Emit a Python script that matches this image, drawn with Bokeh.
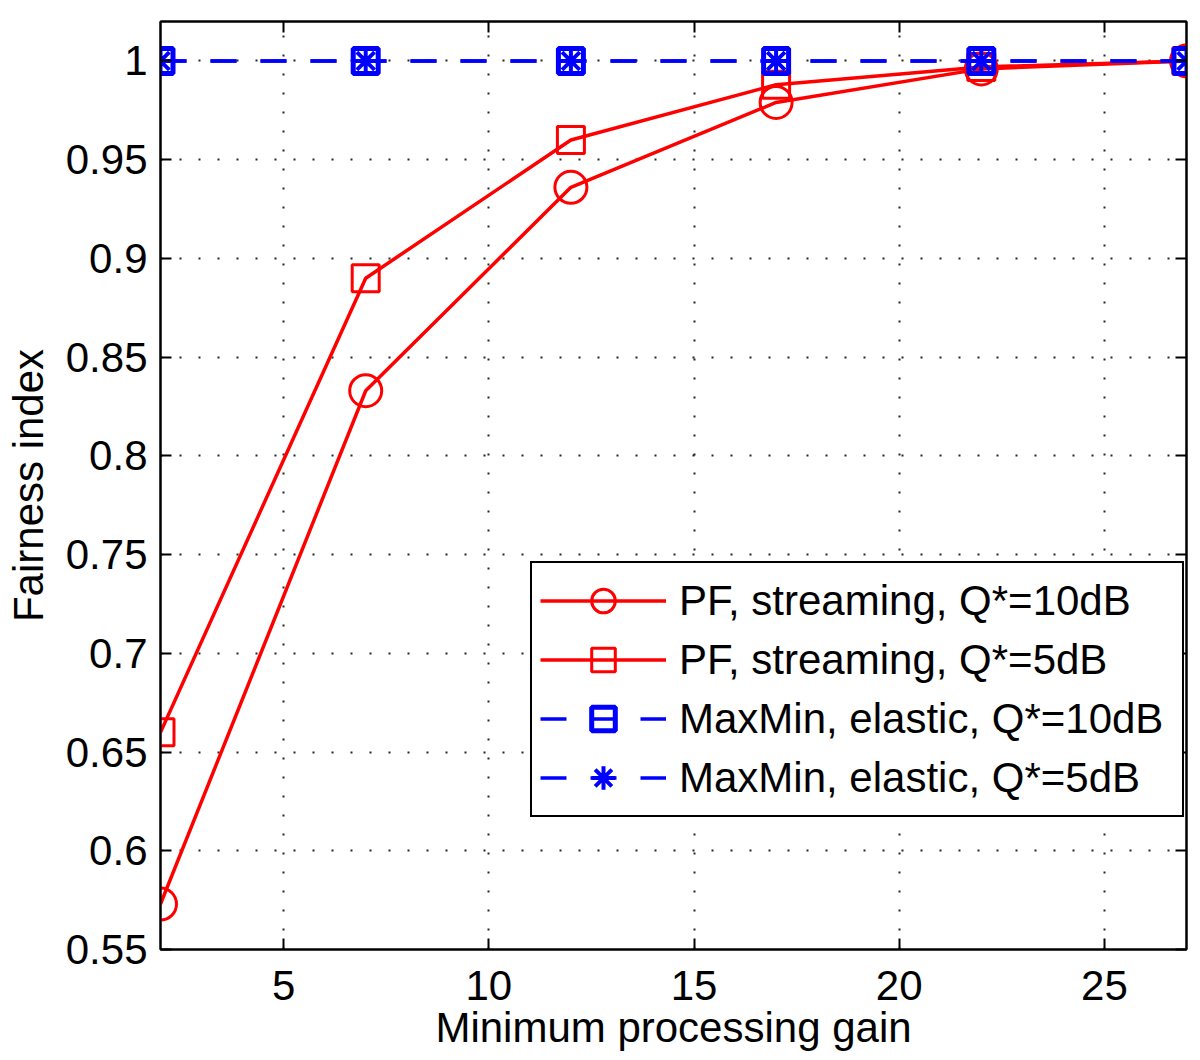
from bokeh.plotting import figure
from bokeh.models import FixedTicker, LinearAxis, Legend, LegendItem, Range1d
from bokeh.embed import file_html
from bokeh.resources import INLINE

# ---- data ----
x_gain = [2, 7, 12, 17, 22, 27]
pf_streaming_q10 = [0.573, 0.833, 0.936, 0.979, 0.996, 1.0]
pf_streaming_q5 = [0.660, 0.890, 0.960, 0.988, 0.997, 1.0]
maxmin_elastic_q10 = [1.0, 1.0, 1.0, 1.0, 1.0, 1.0]
maxmin_elastic_q5 = [1.0, 1.0, 1.0, 1.0, 1.0, 1.0]

series_labels = [
    "PF, streaming, Q*=10dB",
    "PF, streaming, Q*=5dB",
    "MaxMin, elastic, Q*=10dB",
    "MaxMin, elastic, Q*=5dB",
]

x_ticks = [5, 10, 15, 20, 25]
y_ticks = [0.55, 0.6, 0.65, 0.7, 0.75, 0.8, 0.85, 0.9, 0.95, 1.0]
y_tick_labels = ["0.55", "0.6", "0.65", "0.7", "0.75", "0.8", "0.85", "0.9", "0.95", "1"]

x_label = "Minimum processing gain"
y_label = "Fairness index"

FONT = "Liberation Sans"
FS = "42px"
RED = "#ff0000"
BLUE = "#0000ff"

p = figure(
    width=1200, height=1060,
    x_range=Range1d(2, 27), y_range=Range1d(0.55, 1.02),
    output_backend="svg", toolbar_location=None,
    min_border_left=160, min_border_right=14, min_border_top=21, min_border_bottom=111,
)
p.background_fill_color = "white"
p.border_fill_color = "white"
p.outline_line_color = "black"
p.outline_line_width = 2

# axes
for ax in (p.xaxis[0], p.yaxis[0]):
    ax.axis_line_color = "black"
    ax.axis_line_width = 2
    ax.major_tick_line_color = "black"
    ax.major_tick_line_width = 2
    ax.major_tick_in = 11
    ax.major_tick_out = 0
    ax.minor_tick_line_color = None
    ax.major_label_text_font = FONT
    ax.major_label_text_font_size = FS
    ax.major_label_text_color = "black"
    ax.axis_label_text_font = FONT
    ax.axis_label_text_font_size = FS
    ax.axis_label_text_font_style = "normal"
    ax.axis_label_text_color = "black"

p.xaxis[0].ticker = FixedTicker(ticks=x_ticks)
p.xaxis[0].axis_label = x_label
p.xaxis[0].major_label_standoff = 21
p.xaxis[0].axis_label_standoff = 1

p.yaxis[0].ticker = FixedTicker(ticks=y_ticks)
p.yaxis[0].major_label_overrides = dict(zip(y_ticks, y_tick_labels))
p.yaxis[0].axis_label = y_label
p.yaxis[0].major_label_standoff = 13
p.yaxis[0].axis_label_standoff = 11

# box ticks on top and right (no labels)
for loc, ticks in (("above", x_ticks), ("right", y_ticks)):
    ax = LinearAxis(ticker=FixedTicker(ticks=ticks))
    ax.axis_line_color = "black"
    ax.axis_line_width = 2
    ax.major_tick_line_color = "black"
    ax.major_tick_line_width = 2
    ax.major_tick_in = 11
    ax.major_tick_out = 0
    ax.minor_tick_line_color = None
    ax.major_label_text_color = None
    ax.major_label_text_font_size = "1px"
    ax.major_label_standoff = 0
    p.add_layout(ax, loc)

# grid
p.xgrid.ticker = FixedTicker(ticks=x_ticks)
p.ygrid.ticker = FixedTicker(ticks=y_ticks)
p.grid.grid_line_color = "black"
p.grid.grid_line_dash = "2 17"
p.grid.grid_line_width = 2
p.grid.grid_line_alpha = 0.85

# series
l1 = p.line(x_gain, pf_streaming_q10, line_color=RED, line_width=3.5)
m1 = p.scatter(x_gain, pf_streaming_q10, marker="circle", size=32,
               line_color=RED, line_width=3, fill_color=None)
l2 = p.line(x_gain, pf_streaming_q5, line_color=RED, line_width=3.5)
m2 = p.scatter(x_gain, pf_streaming_q5, marker="square", size=27,
               line_color=RED, line_width=3, fill_color=None)
l3 = p.line(x_gain, maxmin_elastic_q10, line_color=BLUE, line_width=3.5, line_dash="26 24")
m3 = p.scatter(x_gain, maxmin_elastic_q10, marker="square", size=25,
               line_color=BLUE, line_width=5, fill_color=None)
l4 = p.line(x_gain, maxmin_elastic_q5, line_color=BLUE, line_width=3.5, line_dash="26 24")
m4 = p.scatter(x_gain, maxmin_elastic_q5, marker="asterisk", size=25,
               line_color=BLUE, line_width=4)

legend = Legend(
    items=[
        LegendItem(label=series_labels[0], renderers=[l1, m1]),
        LegendItem(label=series_labels[1], renderers=[l2, m2]),
        LegendItem(label=series_labels[2], renderers=[l3, m3]),
        LegendItem(label=series_labels[3], renderers=[l4, m4]),
    ],
    location=(370, 132),
    orientation="vertical",
    label_text_font=FONT,
    label_text_font_size=FS,
    label_text_color="black",
    glyph_width=126,
    glyph_height=59,
    label_standoff=13,
    label_width=495,
    padding=8,
    spacing=0,
    margin=0,
    border_line_color="black",
    border_line_width=2,
    border_line_alpha=1.0,
    background_fill_color="white",
    background_fill_alpha=1.0,
)
p.add_layout(legend)

open("out.html", "w").write(file_html(p, INLINE))
